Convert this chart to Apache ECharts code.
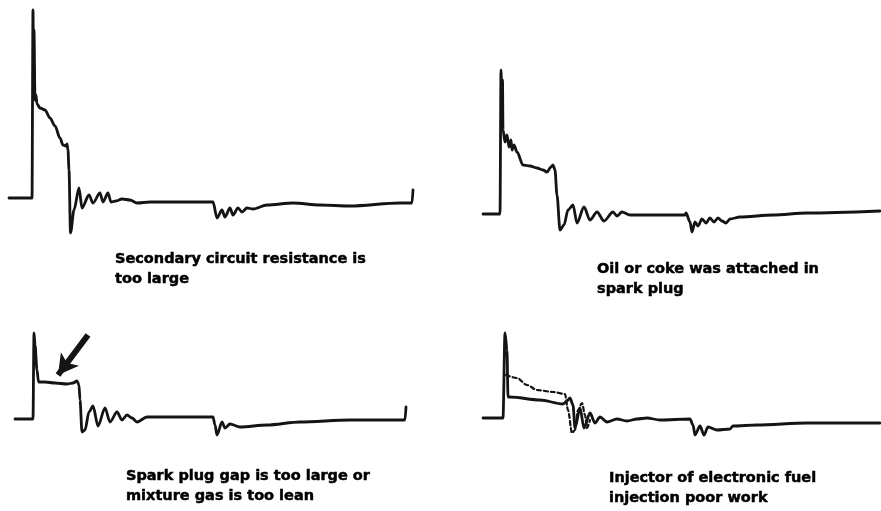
<!DOCTYPE html>
<html>
<head>
<meta charset="utf-8">
<title>Secondary ignition waveforms</title>
<script src="https://cdn.jsdelivr.net/npm/echarts@6/dist/echarts.min.js"></script>
<style>
  html, body { margin: 0; padding: 0; background: #ffffff; }
  #chart { width: 881px; height: 511px; }
</style>
</head>
<body>
<div id="chart"></div>
<script>
// Secondary ignition waveforms, one panel per fault.
// Each point is [time, voltage] with 0 V at the resting line.

// Panel 1: high secondary circuit resistance
const resistanceWave = [
  [9, 0], [32, 0], [33, 188], [33.5, 138], [34, 168], [35, 98], [36, 103], [37, 94],
  [40, 90], [45, 88], [50, 80], [55, 72], [60, 60], [63, 53], [66, 52], [67, 54],
  [68, 48], [69, 28], [70.5, -35], [74, -12], [79, 10], [82, -10], [89, 3], [93, -5],
  [100, 5], [103, -4], [108, 5], [111, -4], [116, -3], [122, -1], [130, -2], [137, -5],
  [150, -4], [213, -4], [217, -20], [222, -12], [225, -19], [230, -10], [233, -17],
  [238, -10], [242, -14], [247, -10], [253, -11], [267, -7], [293, -5], [320, -7],
  [350, -8], [400, -5], [412, -5], [413, 8]
];

// Panel 2: fouled spark plug (oil / carbon)
const fouledPlugWave = [
  [43, 0], [60, 0], [61, 144], [62, 104], [62.5, 134], [63, 84], [65, 72], [67, 79],
  [69, 67], [71, 74], [72, 64], [74, 69], [77, 62], [83, 49], [90, 48], [97, 46],
  [103, 44], [107, 42], [111, 47], [113, 49], [115, 44], [117, 19], [120, -16],
  [124, -11], [128, 4], [133, 9], [137, -9], [144, 7], [150, -6], [157, 2], [164, -7],
  [173, 2], [177, -2], [182, 2], [190, -1], [200, -1], [245, -1], [246, 1], [250, -8],
  [252, -18], [255, -8], [258, -12], [262, -5], [266, -9], [270, -4], [274, -8],
  [278, -4], [282, -7], [286, -9], [290, -5], [300, -3], [333, -1], [367, 1], [440, 3]
];

// Panel 3: wide plug gap / lean mixture
const leanMixtureWave = [
  [15, 0], [33, 0], [34, 86], [35, 74], [37, 49], [38.5, 37], [45, 37], [55, 36],
  [67, 35], [73, 36], [77, 38], [79, 34], [80, 19], [82, -13], [85, -11], [89, 7],
  [93, 13], [98, -7], [105, 11], [110, -3], [117, 7], [122, -1], [127, 4], [132, 1],
  [137, -3], [147, 2], [160, 2], [213, 2], [215, -6], [217, -16], [222, -3], [225, -9],
  [230, -5], [240, -8], [267, -6], [300, -3], [350, -1], [405, -1], [406, 12]
];
// Arrow pointing at the firing line: [tail, head]
const leanArrow = [[88, 84], [58, 44]];

// Panel 4: injector fault, normal cylinder (solid) and faulty one (dashed)
const injectorWave = [
  [43, 0], [63, 0], [65, 85], [67, 68], [68, 21], [70, 21], [100, 18], [123, 14],
  [126, 16], [130, 20], [133, 13], [135, -10], [140, 10], [144, -10], [150, 5],
  [155, -5], [160, 1], [167, -4], [177, -1], [187, -3], [197, -1], [207, 0], [220, -2],
  [250, -1], [253, -7], [255, -17], [260, -8], [264, -17], [268, -9], [277, -12],
  [290, -11], [293, -8], [317, -7], [367, -5], [440, -5]
];
const injectorFaultWave = [
  [66, 43], [77, 40], [87, 33], [97, 28], [113, 26], [125, 24], [128, 8], [132, -15],
  [135, -12], [138, 8], [142, 15], [145, 3], [147, -10], [150, -2]
];

const captions = [
  'Secondary circuit resistance is\ntoo large',
  'Oil or coke was attached in\nspark plug',
  'Spark plug gap is too large or\nmixture gas is too lean',
  'Injector of electronic fuel\ninjection poor work'
];

const INK = '#141414';

// Panel layout: grid box plus the voltage range it shows (1 unit = 1 px)
const panels = [
  { left: 0,   top: 0,   width: 440, height: 240, yMin: -42, yMax: 198 },
  { left: 440, top: 0,   width: 441, height: 240, yMin: -26, yMax: 214 },
  { left: 0,   top: 300, width: 440, height: 150, yMin: -31, yMax: 119 },
  { left: 440, top: 300, width: 441, height: 150, yMin: -32, yMax: 118 }
];

const captionPos = [
  { left: 115, top: 249 },
  { left: 597, top: 259 },
  { left: 126, top: 466 },
  { left: 609, top: 468 }
];

function waveSeries(data, idx, dashed) {
  return {
    type: 'line',
    xAxisIndex: idx,
    yAxisIndex: idx,
    data: data,
    showSymbol: false,
    silent: true,
    animation: false,
    smooth: 0.3,
    smoothMonotone: 'x',
    lineStyle: {
      color: INK,
      width: dashed ? 2.2 : 2.8,
      type: dashed ? [4, 3] : 'solid',
      cap: 'round',
      join: 'round'
    }
  };
}

const series = [
  waveSeries(resistanceWave, 0),
  waveSeries(fouledPlugWave, 1),
  waveSeries(leanMixtureWave, 2),
  waveSeries(injectorWave, 3),
  waveSeries(injectorFaultWave, 3, true),
  {
    type: 'line',
    xAxisIndex: 2,
    yAxisIndex: 2,
    data: [],
    silent: true,
    animation: false,
    markLine: {
      silent: true,
      animation: false,
      symbol: ['none', 'arrow'],
      symbolSize: [17, 20],
      label: { show: false },
      lineStyle: { color: INK, width: 6, type: 'solid' },
      data: [[
        { coord: leanArrow[0] },
        { coord: leanArrow[1] }
      ]]
    }
  }
];

const option = {
  backgroundColor: '#ffffff',
  animation: false,
  title: captions.map((t, i) => ({
    text: t,
    left: captionPos[i].left,
    top: captionPos[i].top,
    padding: 0,
    textStyle: {
      fontFamily: 'DejaVu Sans',
      fontWeight: 'bold',
      fontSize: 14.5,
      lineHeight: 20,
      color: '#000000',
      textBorderColor: '#000000',
      textBorderWidth: 0.5
    }
  })),
  grid: panels.map(p => ({
    left: p.left, top: p.top, width: p.width, height: p.height,
    containLabel: false
  })),
  xAxis: panels.map((p, i) => ({
    type: 'value', gridIndex: i, min: 0, max: p.width, show: false
  })),
  yAxis: panels.map((p, i) => ({
    type: 'value', gridIndex: i, min: p.yMin, max: p.yMax, show: false
  })),
  series: series
};

const chart = echarts.init(document.getElementById('chart'), null, { renderer: 'canvas' });
chart.setOption(option);
</script>
</body>
</html>
